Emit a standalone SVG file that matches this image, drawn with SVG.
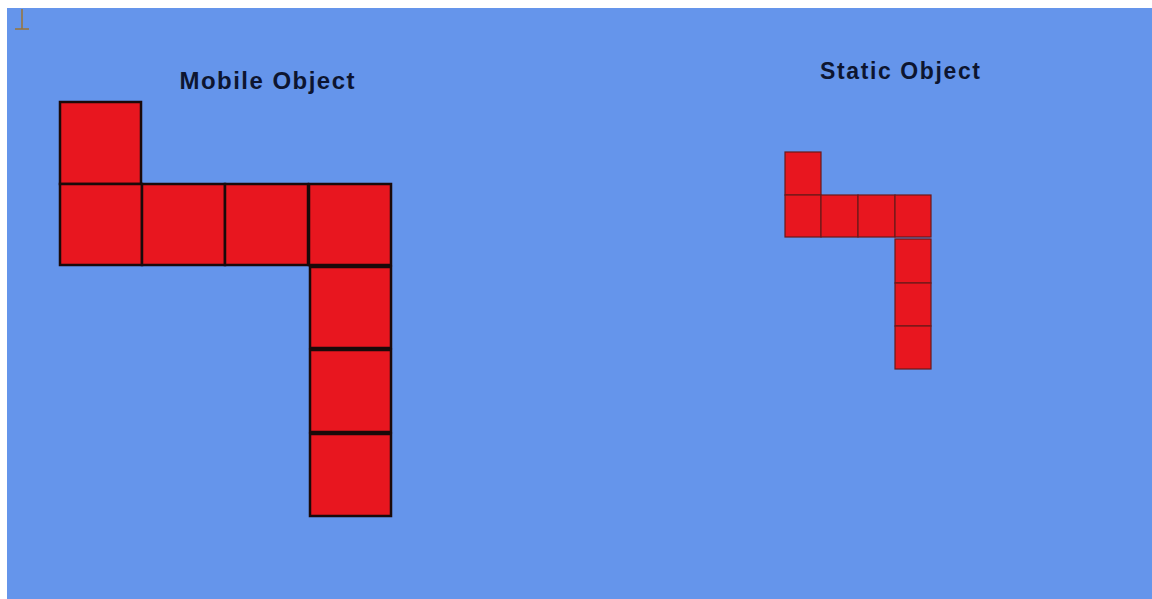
<svg xmlns="http://www.w3.org/2000/svg" width="1152" height="599" viewBox="0 0 1152 599">
<style>
.big{fill:#e8161f;stroke:#1a0a0a;stroke-width:2.5}
.small{fill:#e8161f;stroke:#6a1a1a;stroke-width:1.2}
.lbl{font-family:"Liberation Sans",Arial,sans-serif;font-weight:bold;fill:#0d1530;text-anchor:middle}
</style>
<rect x="0" y="0" width="1152" height="599" fill="#ffffff"/>
<rect x="7" y="8" width="1145" height="591" fill="#6595eb"/>
<g id="cursor" stroke="#9a7436" stroke-width="1.5" fill="none">
<line x1="22" y1="9" x2="22" y2="29"/>
<line x1="15" y1="29" x2="29" y2="29"/>
</g>
<g id="mobile">
<text class="lbl" x="267" y="89" font-size="24" textLength="175" lengthAdjust="spacing">Mobile Object</text>
<rect class="big" x="60" y="102" width="81" height="82"/>
<rect class="big" x="60" y="184" width="82" height="81"/>
<rect class="big" x="142" y="184" width="83" height="81"/>
<rect class="big" x="225" y="184" width="83" height="81"/>
<rect class="big" x="309" y="184" width="82" height="81"/>
<rect class="big" x="310" y="267" width="81" height="81"/>
<rect class="big" x="310" y="350" width="81" height="82"/>
<rect class="big" x="310" y="434" width="81" height="82"/>
</g>
<g id="static">
<text class="lbl" x="900" y="79" font-size="23" textLength="160" lengthAdjust="spacing">Static Object</text>
<rect class="small" x="785" y="152" width="36" height="43"/>
<rect class="small" x="785" y="195" width="36" height="42"/>
<rect class="small" x="821" y="195" width="37" height="42"/>
<rect class="small" x="858" y="195" width="37" height="42"/>
<rect class="small" x="895" y="195" width="36" height="42"/>
<rect class="small" x="895" y="239" width="36" height="44"/>
<rect class="small" x="895" y="283" width="36" height="43"/>
<rect class="small" x="895" y="326" width="36" height="43"/>
</g>
<g id="connectors"></g>
</svg>
